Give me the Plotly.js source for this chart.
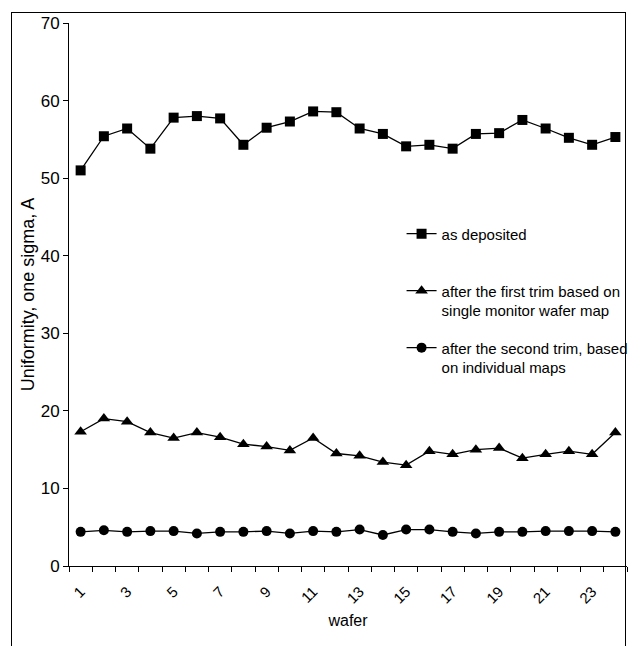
<!DOCTYPE html>
<html>
<head>
<meta charset="utf-8">
<script src="https://cdn.plot.ly/plotly-3.0.1.min.js"></script>
<style>
  html, body { margin: 0; padding: 0; background: #fff; overflow: hidden; }
  #wrap { position: relative; width: 640px; height: 646px; overflow: hidden; }
  #frame { position: absolute; left: 11px; top: 12px; width: 615px; height: 700px; border: 1px solid #000; box-sizing: border-box; pointer-events: none; }
  #chart { position: absolute; left: 0; top: 0; width: 680px; height: 646px; }
</style>
</head>
<body>
<div id="wrap">
  <div id="chart"></div>
  <div id="frame"></div>
</div>
<script>
// wafer numbers
const wafers = [1,2,3,4,5,6,7,8,9,10,11,12,13,14,15,16,17,18,19,20,21,22,23,24];
// tick labels shown on the x axis
const xTickVals = [1,3,5,7,9,11,13,15,17,19,21,23];
const xTickText = ["1","3","5","7","9","11","13","15","17","19","21","23"];
// series values (uniformity, one sigma, A)
const asDeposited = [51.0,55.4,56.4,53.8,57.8,58.0,57.7,54.3,56.5,57.3,58.6,58.5,56.4,55.7,54.1,54.3,53.8,55.7,55.8,57.5,56.4,55.2,54.3,55.3];
const firstTrim   = [17.3,19.0,18.6,17.2,16.5,17.2,16.6,15.7,15.4,14.9,16.5,14.5,14.2,13.4,13.0,14.8,14.4,15.0,15.2,13.9,14.4,14.8,14.4,17.2];
const secondTrim  = [4.4,4.6,4.4,4.5,4.5,4.2,4.4,4.4,4.5,4.2,4.5,4.4,4.7,4.0,4.7,4.7,4.4,4.2,4.4,4.4,4.5,4.5,4.5,4.4];
// legend names
const names = ["as deposited<br> ", "after the first trim based on<br>single monitor wafer map", "after the second trim, based<br>on individual maps"];

const FONT = "Liberation Sans, Arial, sans-serif";
const line = {color: "#000", width: 1.3};

const traces = [
  {x: wafers, y: asDeposited, name: names[0], type: "scatter", mode: "lines+markers",
   line: line, marker: {symbol: "square", size: 10, color: "#000"}, legendgroup: "a"},
  {x: wafers, y: firstTrim, name: names[1], type: "scatter", mode: "lines+markers",
   line: line, marker: {symbol: "triangle-up", size: 11, color: "#000"}, legendgroup: "b"},
  {x: wafers, y: secondTrim, name: names[2], type: "scatter", mode: "lines+markers",
   line: line, marker: {symbol: "circle", size: 10, color: "#000"}, legendgroup: "c"}
];

const layout = {
  width: 680, height: 646,
  margin: {l: 69, r: 53, t: 23, b: 80, pad: 0},
  paper_bgcolor: "#fff", plot_bgcolor: "#fff",
  font: {family: FONT, color: "#000", size: 15},
  showlegend: true,
  legend: {
    x: 0.596, y: 0.642, xanchor: "left", yanchor: "top",
    bgcolor: "rgba(0,0,0,0)", borderwidth: 0,
    font: {family: FONT, size: 15, color: "#000"},
    traceorder: "grouped", tracegroupgap: 15, valign: "top"
  },
  xaxis: {
    type: "linear", range: [0.5, 24.5], fixedrange: true,
    showgrid: false, zeroline: false,
    showline: true, linecolor: "#000", linewidth: 1,
    tickmode: "array", tickvals: xTickVals, ticktext: xTickText,
    ticks: "", tickangle: -45, ticklabelstandoff: 10,
    tickfont: {family: FONT, size: 15, color: "#000"},
    minor: {tickmode: "linear", tick0: 0.5, dtick: 1, ticks: "outside", ticklen: 5, tickcolor: "#000", tickwidth: 1, showgrid: false},
    title: {text: "wafer", font: {family: FONT, size: 16, color: "#000"}, standoff: 9}
  },
  yaxis: {
    range: [0, 70], fixedrange: true,
    showgrid: false, zeroline: false,
    showline: true, linecolor: "#000", linewidth: 1,
    tickmode: "linear", tick0: 0, dtick: 10,
    ticks: "outside", ticklen: 5, tickcolor: "#000",
    tickfont: {family: FONT, size: 17, color: "#000"},
    title: {text: "Uniformity, one sigma, A", font: {family: FONT, size: 18, color: "#000"}, standoff: 1}
  }
};

Plotly.newPlot("chart", traces, layout, {displayModeBar: false, staticPlot: true});
</script>
</body>
</html>
